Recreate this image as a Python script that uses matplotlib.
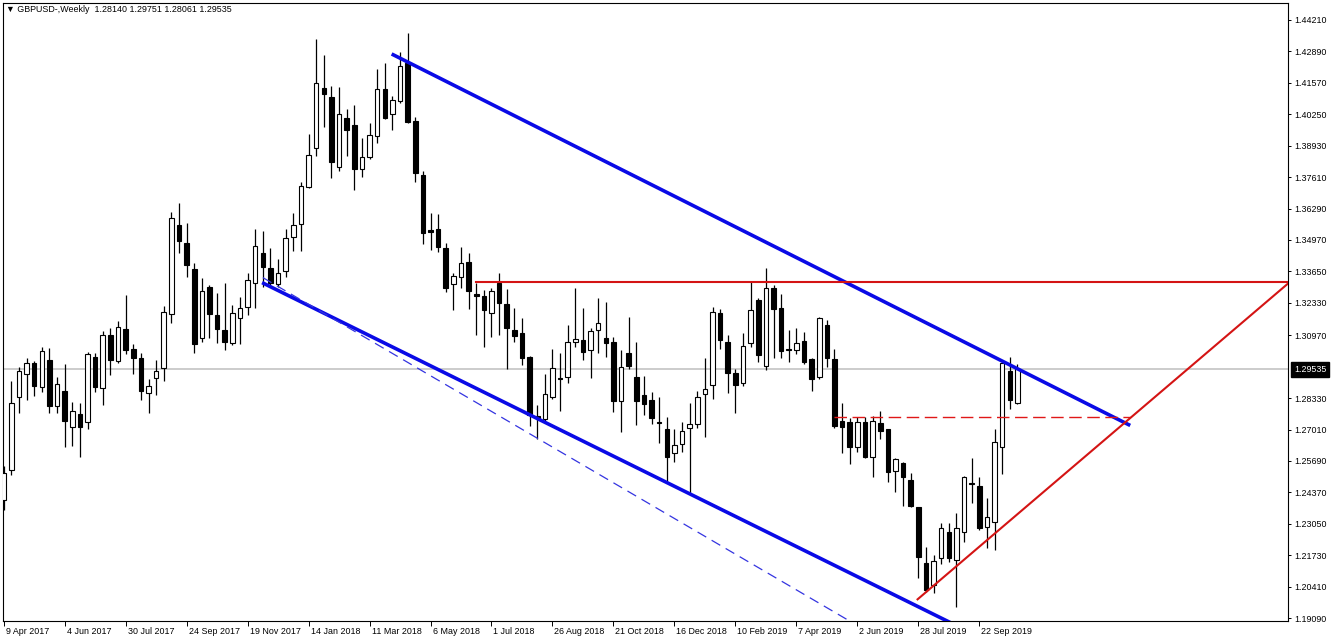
import matplotlib
matplotlib.use("Agg")
import matplotlib.pyplot as plt
import numpy as np
from matplotlib.transforms import ScaledTranslation, blended_transform_factory

# GBPUSD weekly candles, 9 Apr 2017 .. 27 Oct 2019
opens = [
    1.2405, 1.2531, 1.2838, 1.2934, 1.2980, 1.2880, 1.2993, 1.2800, 1.2863, 1.2712,
    1.2766, 1.2733, 1.3006, 1.2875, 1.3098, 1.2989, 1.3123, 1.3039, 1.3001, 1.2854,
    1.2917, 1.2959, 1.3186, 1.3560, 1.3484, 1.3375, 1.3085, 1.3300, 1.3182, 1.3119,
    1.3064, 1.3169, 1.3216, 1.3316, 1.3442, 1.3379, 1.3312, 1.3367, 1.3510, 1.3564,
    1.3720, 1.3883, 1.4135, 1.4098, 1.3804, 1.4009, 1.3980, 1.3795, 1.3846, 1.3934,
    1.4131, 1.4026, 1.4081, 1.4240, 1.3997, 1.3770, 1.3539, 1.3543, 1.3463, 1.3312,
    1.3342, 1.3405, 1.3270, 1.3262, 1.3190, 1.3316, 1.3228, 1.3119, 1.3106, 1.3006,
    1.2758, 1.2745, 1.2838, 1.2917, 1.2922, 1.3069, 1.3077, 1.3035, 1.3119, 1.3085,
    1.3069, 1.2821, 1.3022, 1.2922, 1.2846, 1.2825, 1.2733, 1.2703, 1.2602, 1.2640,
    1.2707, 1.2724, 1.2850, 1.2888, 1.3190, 1.3069, 1.2938, 1.2896, 1.3064, 1.3245,
    1.2968, 1.3295, 1.3211, 1.3039, 1.3035, 1.3073, 1.2997, 1.2922, 1.3140, 1.2997,
    1.2737, 1.2733, 1.2628, 1.2733, 1.2586, 1.2728, 1.2703, 1.2527, 1.2560, 1.2489,
    1.2376, 1.2140, 1.2048, 1.2161, 1.2271, 1.2153, 1.2271, 1.2476, 1.2464, 1.2292,
    1.2313, 1.2628, 1.2947, 1.28140,
]
highs = [
    1.2548, 1.2905, 1.2964, 1.3001, 1.2989, 1.3048, 1.3043, 1.2922, 1.2976, 1.2817,
    1.2812, 1.3027, 1.3022, 1.3115, 1.3127, 1.3157, 1.3266, 1.3060, 1.3022, 1.2913,
    1.2993, 1.3220, 1.3615, 1.3652, 1.3568, 1.3400, 1.3337, 1.3308, 1.3274, 1.3316,
    1.3224, 1.3258, 1.3358, 1.3543, 1.3535, 1.3463, 1.3417, 1.3543, 1.3610, 1.3741,
    1.3942, 1.4341, 1.4274, 1.4144, 1.4140, 1.4047, 1.4064, 1.3925, 1.3988, 1.4215,
    1.4240, 1.4102, 1.4287, 1.4366, 1.4014, 1.3787, 1.3610, 1.3606, 1.3484, 1.3358,
    1.3468, 1.3442, 1.3316, 1.3287, 1.3295, 1.3358, 1.3291, 1.3211, 1.3169, 1.3010,
    1.2804, 1.2934, 1.3039, 1.3022, 1.3140, 1.3295, 1.3211, 1.3127, 1.3253, 1.3237,
    1.3090, 1.3035, 1.3174, 1.3069, 1.2926, 1.2859, 1.2838, 1.2754, 1.2703, 1.2733,
    1.2812, 1.2863, 1.3001, 1.3216, 1.3207, 1.3098, 1.2955, 1.3106, 1.3325, 1.3253,
    1.3379, 1.3308, 1.3270, 1.3119, 1.3127, 1.3111, 1.3001, 1.3174, 1.3161, 1.3039,
    1.2812, 1.2749, 1.2754, 1.2754, 1.2758, 1.2779, 1.2703, 1.2581, 1.2565, 1.2518,
    1.2376, 1.2208, 1.2174, 1.2308, 1.2308, 1.2350, 1.2506, 1.2581, 1.2502, 1.2413,
    1.2703, 1.2989, 1.3006, 1.29751,
]
lows = [
    1.2363, 1.2510, 1.2770, 1.2825, 1.2842, 1.2859, 1.2770, 1.2770, 1.2628, 1.2632,
    1.2586, 1.2703, 1.2859, 1.2804, 1.2930, 1.2980, 1.3018, 1.2934, 1.2825, 1.2770,
    1.2846, 1.2905, 1.3148, 1.3442, 1.3342, 1.3022, 1.3069, 1.3085, 1.3064, 1.3035,
    1.3056, 1.3060, 1.3182, 1.3211, 1.3300, 1.3300, 1.3300, 1.3342, 1.3451, 1.3451,
    1.3716, 1.3850, 1.3972, 1.3757, 1.3787, 1.3850, 1.3707, 1.3762, 1.3837, 1.3904,
    1.4005, 1.3959, 1.4072, 1.3988, 1.3741, 1.3480, 1.3455, 1.3447, 1.3279, 1.3203,
    1.3295, 1.3207, 1.3098, 1.3048, 1.3090, 1.3098, 1.2955, 1.3069, 1.2972, 1.2716,
    1.2661, 1.2737, 1.2829, 1.2779, 1.2896, 1.3048, 1.2993, 1.2917, 1.3022, 1.3006,
    1.2775, 1.2691, 1.2955, 1.2720, 1.2762, 1.2724, 1.2644, 1.2481, 1.2565, 1.2607,
    1.2434, 1.2707, 1.2670, 1.2829, 1.3039, 1.2854, 1.2770, 1.2884, 1.3048, 1.2985,
    1.2951, 1.3001, 1.3001, 1.2985, 1.3018, 1.2976, 1.2863, 1.2913, 1.2964, 1.2707,
    1.2602, 1.2556, 1.2607, 1.2581, 1.2502, 1.2661, 1.2481, 1.2439, 1.2380, 1.2376,
    1.2077, 1.2019, 1.2015, 1.2136, 1.2145, 1.1956, 1.2229, 1.2392, 1.2279, 1.2203,
    1.2195, 1.2514, 1.2787, 1.28061,
]
closes = [
    1.2518, 1.2812, 1.2947, 1.2980, 1.2884, 1.3031, 1.2800, 1.2892, 1.2737, 1.2779,
    1.2712, 1.3018, 1.2880, 1.3098, 1.2993, 1.3132, 1.3035, 1.3001, 1.2863, 1.2884,
    1.2947, 1.3195, 1.3589, 1.3493, 1.3392, 1.3060, 1.3283, 1.3186, 1.3123, 1.3069,
    1.3190, 1.3211, 1.3329, 1.3472, 1.3384, 1.3316, 1.3358, 1.3505, 1.3560, 1.3724,
    1.3854, 1.4156, 1.4110, 1.3825, 1.4026, 1.3959, 1.3795, 1.3846, 1.3938, 1.4131,
    1.4009, 1.4085, 1.4228, 1.3993, 1.3778, 1.3526, 1.3531, 1.3468, 1.3295, 1.3346,
    1.3400, 1.3283, 1.3262, 1.3203, 1.3283, 1.3232, 1.3127, 1.3094, 1.3001, 1.2762,
    1.2749, 1.2850, 1.2959, 1.2913, 1.3069, 1.3081, 1.3027, 1.3115, 1.3148, 1.3064,
    1.2821, 1.2964, 1.2968, 1.2821, 1.2808, 1.2749, 1.2728, 1.2586, 1.2636, 1.2695,
    1.2724, 1.2838, 1.2871, 1.3195, 1.3077, 1.2938, 1.2888, 1.3052, 1.3203, 1.3014,
    1.3295, 1.3207, 1.3031, 1.3035, 1.3064, 1.2985, 1.2913, 1.3169, 1.3001, 1.2716,
    1.2712, 1.2628, 1.2733, 1.2586, 1.2737, 1.2695, 1.2523, 1.2577, 1.2502, 1.2380,
    1.2166, 1.2027, 1.2149, 1.2287, 1.2161, 1.2287, 1.2502, 1.2472, 1.2287, 1.2334,
    1.2649, 1.2980, 1.2825, 1.29535,
]

# drawing objects: (bar index, price) anchors
upper_channel = ([50.9, 147.8], [1.4278, 1.2718])
lower_channel = ([33.9, 130.8], [1.3318, 1.1786])
lower_dashed = ([34.0, 117.6], [1.3339, 1.1773])
resistance = ([62.0, 168.5], [1.3322, 1.3322])
support_dashed = ([108.9, 147.8], [1.2755, 1.2755])
rising_line = ([119.9, 168.5], [1.1988, 1.3314])

last_price = 1.29535
title = "\u25bc GBPUSD-,Weekly  1.28140 1.29751 1.28061 1.29535"

ytick_values = [1.44210, 1.42890, 1.41570, 1.40250, 1.38930, 1.37610, 1.36290,
                1.34970, 1.33650, 1.32330, 1.30970, 1.28330, 1.27010, 1.25690,
                1.24370, 1.23050, 1.21730, 1.20410, 1.19090]
xtick_pos = [0, 8, 16, 24, 32, 40, 48, 56, 64, 72, 80, 88, 96, 104, 112, 120, 128]
xtick_labels = ["9 Apr 2017", "4 Jun 2017", "30 Jul 2017", "24 Sep 2017",
                "19 Nov 2017", "14 Jan 2018", "11 Mar 2018", "6 May 2018",
                "1 Jul 2018", "26 Aug 2018", "21 Oct 2018", "16 Dec 2018",
                "10 Feb 2019", "7 Apr 2019", "2 Jun 2019", "28 Jul 2019",
                "22 Sep 2019"]

FONT = ["Liberation Sans", "DejaVu Sans"]
plt.rcParams["font.family"] = FONT

W, H = 1332, 641
fig = plt.figure(figsize=(W / 100, H / 100), dpi=100)
ax = fig.add_axes([3 / W, 20 / H, 1285 / W, 618 / H])

o = np.array(opens)
h = np.array(highs)
l = np.array(lows)
c = np.array(closes)
idx = np.arange(len(o))
up = c >= o

ax.axhline(last_price, color="#c8c8c8", lw=1.3, zorder=1)

ax.vlines(idx, l, h, color="black", lw=0.9, zorder=2)
bottoms = np.minimum(o, c)
heights = np.maximum(np.abs(c - o), 0.00005)
ax.bar(idx[up], heights[up], bottom=bottoms[up], width=0.6,
       facecolor="white", edgecolor="black", linewidth=0.8, zorder=3)
ax.bar(idx[~up], heights[~up], bottom=bottoms[~up], width=0.6,
       facecolor="black", edgecolor="black", linewidth=0.8, zorder=3)

blue = "#0a0ae6"
red = "#d41414"
ax.plot(*upper_channel, color=blue, lw=2.6, zorder=4, solid_capstyle="butt")
ax.plot(*lower_channel, color=blue, lw=2.6, zorder=4, solid_capstyle="butt")
ax.plot(*lower_dashed, color="#3434e0", lw=0.9, dashes=(8, 5), zorder=4)
ax.plot(*resistance, color=red, lw=1.5, zorder=4)
ax.plot(*support_dashed, color="#e01818", lw=1.0, dashes=(9, 4), zorder=4)
ax.plot(*rising_line, color=red, lw=1.5, zorder=4)

ax.set_xlim(-0.09, 168.5)
ax.set_ylim(1.1897, 1.4492)

ax.yaxis.tick_right()
ax.set_yticks(ytick_values)
ax.set_yticklabels([f"{v:.5f}" for v in ytick_values])
ax.tick_params(axis="y", direction="out", length=2.5, width=0.7, pad=2,
               labelsize=6.4, colors="black")

ax.set_xticks(xtick_pos)
ax.set_xticklabels(xtick_labels)
ax.tick_params(axis="x", direction="out", length=3.5, width=0.7, pad=0.5,
               labelsize=6.4)
shift = ScaledTranslation(2 / 100, 0, fig.dpi_scale_trans)
for lbl in ax.get_xticklabels():
    lbl.set_horizontalalignment("left")
    lbl.set_transform(lbl.get_transform() + shift)

for sp in ax.spines.values():
    sp.set_linewidth(0.8)
    sp.set_color("black")

# current price marker on the price scale
trans = blended_transform_factory(ax.transAxes, ax.transData)
ax.text(1.0 + 6 / 1285, last_price, f"{last_price:.5f}", transform=trans,
        ha="left", va="center", fontsize=6.4, color="white", zorder=6,
        clip_on=False,
        bbox=dict(boxstyle="square,pad=0.3", fc="black", ec="black"))

fig.text(6 / W, 1 - 10 / H, title, fontsize=6.4, ha="left", va="center")

fig.savefig("out.png", dpi=100)
